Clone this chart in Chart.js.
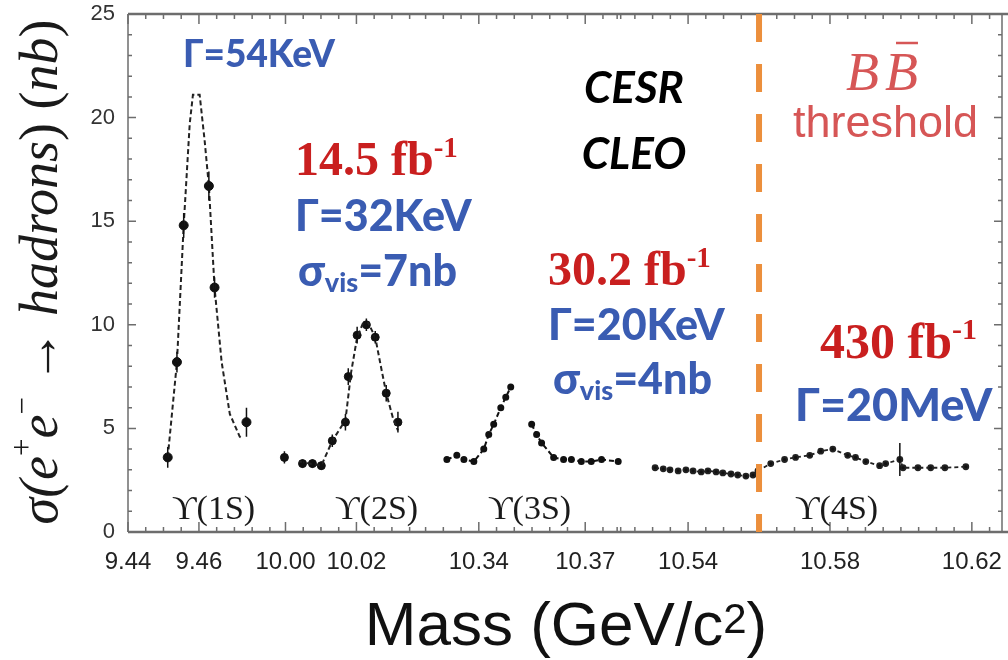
<!DOCTYPE html>
<html>
<head>
<meta charset="utf-8">
<script src="https://cdn.jsdelivr.net/npm/chart.js@4/dist/chart.umd.min.js"></script>
<style>
  html, body { margin: 0; padding: 0; background: #fff; }
  #wrap { width: 1008px; height: 660px; position: relative; }
</style>
</head>
<body>
<div id="wrap"><canvas id="c" width="1008" height="660"></canvas></div>
<script>
// ---- Υ(1S) scan: measured points and fitted line shape (mass in GeV, σ in nb)
const mass1S  = [9.4512, 9.4538, 9.4557, 9.4628, 9.4644, 9.4734];
const sigma1S = [3.6, 8.2, 14.8, 16.7, 11.8, 5.3];
const err1S   = [0.5, 0.5, 0.6, 0.7, 0.5, 0.7];
const fitMass1S  = [9.4512, 9.4538, 9.4557, 9.4574, 9.4583, 9.4602, 9.4616, 9.4628, 9.4644, 9.4664, 9.4687, 9.4715, 9.4723];
const fitSigma1S = [3.6, 8.2, 14.8, 19.7, 21.1, 21.1, 18.9, 16.7, 11.8, 8.2, 5.7, 4.6, 4.5];

// ---- Υ(2S) scan
const mass2S  = [9.9997, 10.0048, 10.0076, 10.0101, 10.0132, 10.0169, 10.0177, 10.0202, 10.0228, 10.0253, 10.0284, 10.0317];
const sigma2S = [3.6, 3.3, 3.3, 3.2, 4.4, 5.3, 7.5, 9.5, 10.0, 9.4, 6.7, 5.3];
const err2S   = [0.3, 0.2, 0.2, 0.2, 0.3, 0.4, 0.4, 0.4, 0.3, 0.3, 0.4, 0.5];
const fitMass2S  = [10.0039, 10.0101, 10.0132, 10.0169, 10.0185, 10.0202, 10.0219, 10.0233, 10.0253, 10.0270, 10.0284, 10.0303, 10.0317];
const fitSigma2S = [3.4, 3.2, 4.4, 5.4, 7.7, 9.4, 10.1, 10.1, 9.4, 7.9, 6.7, 5.5, 4.9];

// ---- Υ(3S) scan (null = no drawn stretch)
const mass3S  = [10.3310, 10.3338, 10.3358, 10.3386, 10.3414, 10.3428, 10.3442, 10.3462, 10.3476, 10.3490, 10.3520,
                 10.3549, 10.3563, 10.3577, 10.3611, 10.3639, 10.3661, 10.3689, 10.3717, 10.3746, 10.3793];
const sigma3S = [3.5, 3.7, 3.5, 3.4, 4.0, 4.7, 5.2, 6.0, 6.5, 7.0, null,
                 5.2, 4.7, 4.3, 3.6, 3.5, 3.5, 3.4, 3.4, 3.5, 3.4];

// ---- continuum below and Υ(4S) above the BB̄ threshold
const mass4S  = [10.5307, 10.5330, 10.5349, 10.5372, 10.5394, 10.5414, 10.5437, 10.5456, 10.5479, 10.5498, 10.5521,
                 10.5540, 10.5563, 10.5583, 10.5597, 10.5633, 10.5672, 10.5703, 10.5743, 10.5774, 10.5808, 10.5850,
                 10.5872, 10.5901, 10.5940, 10.5957, 10.5997, 10.6006, 10.6048, 10.6084, 10.6124, 10.6183];
const sigma4S = [3.1, 3.05, 3.0, 2.95, 3.0, 2.95, 2.9, 2.95, 2.9, 2.85, 2.8,
                 2.75, 2.7, 2.75, 2.95, 3.3, 3.5, 3.6, 3.7, 3.9, 4.0, 3.7,
                 3.6, 3.4, 3.2, 3.3, 3.5, 3.1, 3.1, 3.1, 3.1, 3.15];
const err4S   = [0, 0, 0, 0, 0, 0, 0, 0, 0, 0, 0,
                 0, 0, 0, 0, 0, 0, 0, 0, 0, 0, 0,
                 0, 0, 0, 0, 0.8, 0, 0, 0, 0, 0];

// ---- axes
const xTickMasses = [9.44, 9.46, 10.00, 10.02, 10.34, 10.37, 10.54, 10.58, 10.62];
const yTicks = [0, 5, 10, 15, 20, 25];
const bbThreshold = 10.56;

// The mass axis is broken into four windows placed side by side.
const axisSegments = [
  { lo: 9.44,   hi: 9.48,  shift: 0 },
  { lo: 10.00,  hi: 10.035, shift: 0.5156 },
  { lo: 10.325, hi: 10.38, shift: 0.8011 },
  { lo: 10.52,  hi: 10.625, shift: 0.9421 }
];
function segmentFor(m) {
  let seg = axisSegments[0];
  for (const s of axisSegments) if (m >= s.lo - 0.015) seg = s;
  return seg;
}
function toAxis(m) { return m - segmentFor(m).shift; }
function pts(ms, ys) { return ms.map((m, i) => ({ x: toAxis(m), y: ys[i] })); }

const BLUE = '#3a5cb2';
const RED = '#c91f1f';
const SOFTRED = '#d65656';
const ORANGE = '#ec8f3c';
const INK = '#1a1a1a';

// ---- text blocks drawn over the plot
const SANS_B = (s) => `900 ${s}px Lato, "Liberation Sans", sans-serif`;
const SERIF_B = (s) => `bold ${s}px "Liberation Serif", serif`;
const UPS = '34px "Liberation Serif", "DejaVu Serif", serif';
const notes = [
  { x: 183, y: 67,  parts: [['Γ=54KeV', SANS_B(37), BLUE]] },
  { x: 634, y: 103, align: 'center', parts: [['CESR', `italic bold 44px Lato, "Liberation Sans", sans-serif`, '#000']] },
  { x: 634, y: 169, align: 'center', parts: [['CLEO', `italic bold 44px Lato, "Liberation Sans", sans-serif`, '#000']] },
  { x: 295, y: 175, parts: [['14.5 fb', SERIF_B(48), RED], ['-1', SERIF_B(29), RED, -18]] },
  { x: 295, y: 231, parts: [['Γ=32KeV', SANS_B(43), BLUE]] },
  { x: 298, y: 286, parts: [['σ', SANS_B(43), BLUE], ['vis', SANS_B(27), BLUE, 6], ['=7nb', SANS_B(43), BLUE]] },
  { x: 548, y: 285, parts: [['30.2 fb', SERIF_B(48), RED], ['-1', SERIF_B(29), RED, -18]] },
  { x: 548, y: 340, parts: [['Γ=20KeV', SANS_B(43), BLUE]] },
  { x: 553, y: 394, parts: [['σ', SANS_B(43), BLUE], ['vis', SANS_B(27), BLUE, 6], ['=4nb', SANS_B(43), BLUE]] },
  { x: 820, y: 358, parts: [['430 fb', SERIF_B(50), RED], ['-1', SERIF_B(30), RED, -19]] },
  { x: 795, y: 421, parts: [['Γ=20MeV', SANS_B(45), BLUE]] },
  { x: 793, y: 137, parts: [['threshold', '45px "Liberation Sans", sans-serif', SOFTRED]] },
  { x: 172, y: 519, parts: [['ϒ(1S)', UPS, INK]] },
  { x: 335, y: 519, parts: [['ϒ(2S)', UPS, INK]] },
  { x: 488, y: 519, parts: [['ϒ(3S)', UPS, INK]] },
  { x: 795, y: 519, parts: [['ϒ(4S)', UPS, INK]] }
];

function drawRich(ctx, x, y, parts, align) {
  let total = 0;
  const widths = parts.map(p => { ctx.font = p[1]; const w = ctx.measureText(p[0]).width; total += w; return w; });
  let cx = align === 'center' ? x - total / 2 : x;
  parts.forEach((p, i) => {
    ctx.font = p[1];
    ctx.fillStyle = p[2];
    ctx.fillText(p[0], cx, y + (p[3] || 0));
    cx += widths[i];
  });
  return total;
}

// frame, ticks on all four sides
const framePlugin = {
  id: 'frame',
  beforeDatasetsDraw(chart) {
    const { ctx, chartArea: a, scales: { x, y } } = chart;
    ctx.save();
    ctx.strokeStyle = '#6d6d6d';
    ctx.lineWidth = 1.5;
    ctx.beginPath();
    ctx.moveTo(a.left, a.top); ctx.lineTo(a.left, a.bottom);
    ctx.moveTo(a.right, a.top); ctx.lineTo(a.right, a.bottom);
    ctx.stroke();
    ctx.lineWidth = 2.5;
    ctx.beginPath();
    ctx.moveTo(a.left, a.top); ctx.lineTo(chart.width, a.top);
    ctx.moveTo(a.left, a.bottom); ctx.lineTo(chart.width, a.bottom);
    ctx.stroke();

    ctx.lineWidth = 1.5;
    ctx.beginPath();
    // mass ticks every 5 MeV in each window, longer at the labelled masses
    axisSegments.forEach(s => {
      for (let k = Math.round(s.lo / 0.005); k * 0.005 <= s.hi + 1e-9; k++) {
        const m = k * 0.005;
        const px = x.getPixelForValue(m - s.shift);
        if (px < a.left || px > a.right) continue;
        const major = xTickMasses.some(t => Math.abs(t - m) < 1e-6);
        const len = major ? 10 : 5;
        ctx.moveTo(px, a.bottom); ctx.lineTo(px, a.bottom - len);
        ctx.moveTo(px, a.top); ctx.lineTo(px, a.top + len);
      }
    });
    // cross-section ticks every 1 nb
    for (let v = 0; v <= 25; v++) {
      const py = y.getPixelForValue(v);
      const len = v % 5 === 0 ? 8 : 4;
      ctx.moveTo(a.left, py); ctx.lineTo(a.left + len, py);
      ctx.moveTo(a.right, py); ctx.lineTo(a.right - len, py);
    }
    ctx.stroke();
    ctx.restore();
  },
  afterDatasetsDraw(chart) {
    const { ctx, chartArea: a, scales: { x, y } } = chart;
    ctx.save();
    // vertical error bars
    chart.data.datasets.forEach((ds, i) => {
      if (!ds.errors) return;
      const meta = chart.getDatasetMeta(i);
      ctx.strokeStyle = '#111';
      ctx.lineWidth = 1.5;
      ctx.beginPath();
      meta.data.forEach((el, j) => {
        const e = ds.errors[j];
        if (!e) return;
        const v = ds.data[j].y;
        ctx.moveTo(el.x, y.getPixelForValue(v - e));
        ctx.lineTo(el.x, y.getPixelForValue(v + e));
      });
      ctx.stroke();
    });
    // BB̄ threshold
    const tx = x.getPixelForValue(toAxis(bbThreshold));
    ctx.strokeStyle = ORANGE;
    ctx.lineWidth = 6;
    ctx.setLineDash([28, 22]);
    ctx.beginPath();
    ctx.moveTo(tx, a.top);
    ctx.lineTo(tx, a.bottom);
    ctx.stroke();
    ctx.restore();
  },
  afterDraw(chart) {
    const { ctx } = chart;
    ctx.save();
    ctx.textBaseline = 'alphabetic';
    notes.forEach(n => drawRich(ctx, n.x, n.y, n.parts, n.align));

    // B B̄ label
    ctx.font = 'italic 54px "Liberation Serif", serif';
    ctx.fillStyle = SOFTRED;
    const wB = ctx.measureText('B').width;
    ctx.fillText('B', 846, 90);
    ctx.fillText('B', 846 + wB + 6, 90);
    ctx.strokeStyle = SOFTRED;
    ctx.lineWidth = 2.5;
    ctx.beginPath();
    ctx.moveTo(846 + wB + 17, 43); ctx.lineTo(846 + 2 * wB + 6, 43);
    ctx.stroke();

    // vertical title
    ctx.translate(43, 272);
    ctx.rotate(-Math.PI / 2);
    ctx.textBaseline = 'middle';
    const it = 'italic 54px "Liberation Serif", serif';
    const up = '54px "Liberation Serif", serif';
    const sm = '31px "Liberation Serif", serif';
    const parts = [['σ(', it, INK], ['e', it, INK], ['+', sm, INK, -19], ['e', it, INK], ['−', sm, INK, -19],
                   [' → ', up, INK], ['hadrons', it, INK], [') (', up, INK], ['nb', it, INK], [')', up, INK]];
    drawRich(ctx, 0, 0, parts, 'center');
    ctx.restore();

    // mass axis title
    ctx.save();
    ctx.textBaseline = 'alphabetic';
    drawRich(ctx, 566, 645, [['Mass (GeV/c', '62px "Liberation Sans", sans-serif', '#111'],
                            ['2', '42px "Liberation Sans", sans-serif', '#111', -12],
                            [')', '62px "Liberation Sans", sans-serif', '#111']], 'center');
    ctx.restore();
  }
};

new Chart(document.getElementById('c'), {
  type: 'scatter',
  data: {
    datasets: [
      { data: pts(fitMass1S, fitSigma1S), showLine: true, borderColor: '#222', borderWidth: 2, borderDash: [5, 3], pointRadius: 0 },
      { data: pts(mass1S, sigma1S), errors: err1S, pointRadius: 4.5, backgroundColor: '#111', borderColor: '#111' },
      { data: pts(fitMass2S, fitSigma2S), showLine: true, borderColor: '#222', borderWidth: 2, borderDash: [5, 3], pointRadius: 0 },
      { data: pts(mass2S, sigma2S), errors: err2S, pointRadius: 4, backgroundColor: '#111', borderColor: '#111' },
      { data: pts(mass3S, sigma3S), showLine: true, spanGaps: false, borderWidth: 2, borderDash: [5, 3],
        pointRadius: 2.5, backgroundColor: '#111', borderColor: '#111' },
      { data: pts(mass4S, sigma4S), errors: err4S, showLine: true, borderColor: '#222', borderWidth: 1.8, borderDash: [4, 3],
        pointRadius: 2.5, backgroundColor: '#111' }
    ]
  },
  options: {
    responsive: false,
    animation: false,
    layout: { padding: { top: 14, right: 3, left: 0, bottom: 0 } },
    plugins: { legend: { display: false }, tooltip: { enabled: false } },
    scales: {
      x: {
        type: 'linear',
        min: 9.44,
        max: 9.6864,
        grid: { display: false, drawTicks: false },
        border: { display: false },
        afterBuildTicks: s => { s.ticks = xTickMasses.map(m => ({ value: toAxis(m) })); },
        afterFit: s => { s.height = 128; s.paddingLeft = 0; s.paddingRight = 0; },
        ticks: {
          autoSkip: false, maxRotation: 0, padding: 16,
          color: '#222',
          font: { family: '"Liberation Sans", sans-serif', size: 24 },
          callback: (v, i) => xTickMasses[i].toFixed(2)
        }
      },
      y: {
        min: 0,
        max: 25,
        grid: { display: false, drawTicks: false },
        border: { display: false },
        afterBuildTicks: s => { s.ticks = yTicks.map(v => ({ value: v })); },
        afterFit: s => { s.width = 128; s.paddingTop = 0; s.paddingBottom = 0; },
        ticks: {
          padding: 13,
          color: '#333',
          font: { family: '"Liberation Sans", sans-serif', size: 22 }
        }
      }
    }
  },
  plugins: [framePlugin]
});
</script>
</body>
</html>
